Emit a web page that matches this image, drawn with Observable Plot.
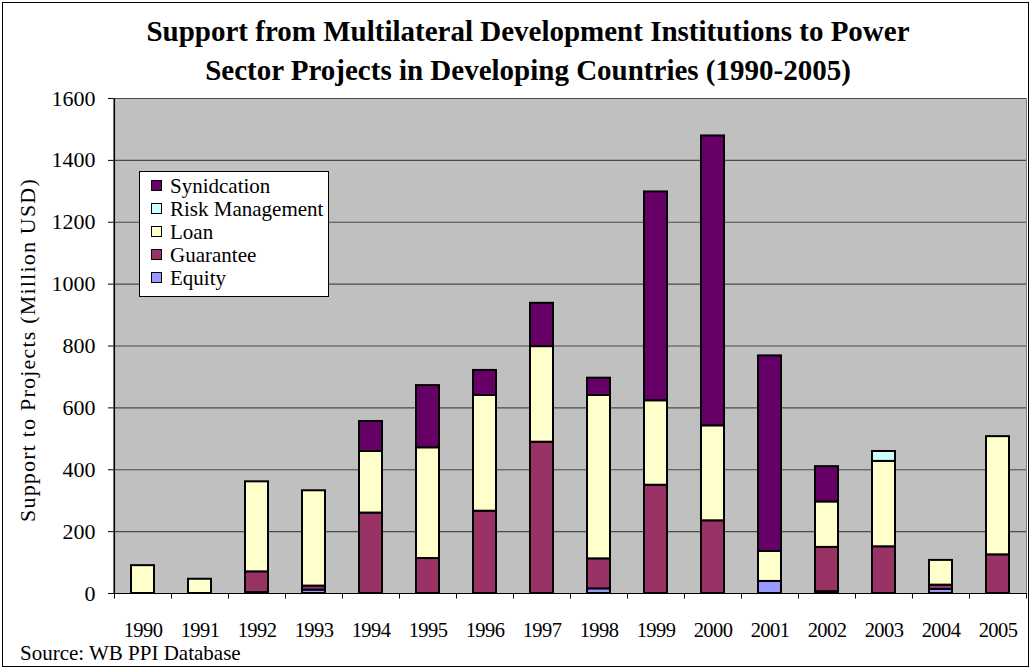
<!DOCTYPE html>
<html><head><meta charset="utf-8">
<script src="https://cdn.jsdelivr.net/npm/d3@7"></script>
<script src="https://cdn.jsdelivr.net/npm/@observablehq/plot@0.6"></script>
<style>
body{margin:0;background:#fff;}
#wrap{position:relative;width:1032px;height:670px;font-family:"Liberation Serif","Times New Roman",serif;color:#000;overflow:hidden}
#wrap svg{position:absolute;left:0;top:0}
#wrap svg g[aria-label="x-axis tick label"] text{letter-spacing:-0.6px}
#frame{position:absolute;left:2px;top:2px;width:1027px;height:665px;border:1px solid #000;box-sizing:border-box;pointer-events:none}
#title{position:absolute;left:12px;top:12px;width:1032px;text-align:center;font-weight:bold;font-size:29px;line-height:39px;}
#ylab{position:absolute;left:28px;top:350px;transform:translate(-50%,-50%) rotate(-90deg);white-space:nowrap;font-size:22px;letter-spacing:1.2px;line-height:22px}
#source{position:absolute;left:20px;top:643px;font-size:21px;line-height:21px;}
#legend{position:absolute;left:139px;top:171px;width:190px;height:126px;background:#fff;border:1px solid #000;box-sizing:border-box;}
.li{position:absolute;left:11px;height:20px;font-size:21px;line-height:20px;white-space:nowrap}
.sw{display:inline-block;width:9px;height:9px;border:1px solid #000;margin-right:8px;vertical-align:2px}
</style></head>
<body><div id="wrap"></div>
<script>
const years = ["1990","1991","1992","1993","1994","1995","1996","1997","1998","1999","2000","2001","2002","2003","2004","2005"];
const types = ["Equity","Guarantee","Loan","Risk Management","Synidcation"];
const colors = ["#9999ff","#993366","#ffffcc","#ccffff","#660066"];
const equity      = [0,0,3,11,0,0,0,0,15,0,0,39,6,0,13,0];
const guarantee   = [0,0,67,13,260,113,266,489,97,350,235,0,143,151,14,125];
const loan        = [90,46,291,308,199,358,374,309,528,273,307,97,147,276,80,382];
const riskMgmt    = [0,0,0,0,0,0,0,0,0,0,0,0,0,32,0,0];
const syndication = [0,0,0,0,97,201,81,140,56,675,937,632,114,0,0,0];
const yTicks = [0,200,400,600,800,1000,1200,1400,1600];
const title1 = "Support from Multilateral Development Institutions to Power";
const title2 = "Sector Projects in Developing Countries (1990-2005)";
const yLabel = "Support to Projects (Million USD)";
const source = "Source: WB PPI Database";

const series = [equity, guarantee, loan, riskMgmt, syndication];
const rows = [];
years.forEach((y, i) => types.forEach((t, k) => {
  if (series[k][i] > 0) rows.push({year: y, type: t, value: series[k][i]});
}));

const W = 1032, H = 670, mL = 113, mR = 6, mT = 98, mB = 77;
const step = (W - mL - mR) / years.length;

const chart = Plot.plot({
  width: W, height: H,
  marginLeft: mL, marginRight: mR, marginTop: mT, marginBottom: mB,
  style: {background: "transparent", fontFamily: "'Liberation Serif','Times New Roman',serif", fontSize: "19px", color: "#000"},
  x: {type: "band", domain: years, paddingInner: 0.6, paddingOuter: 0.3, align: 0.5, label: null},
  y: {domain: [0, 1600], label: null},
  color: {domain: types, range: colors},
  marks: [
    Plot.frame({fill: "#c0c0c0", stroke: "#808080"}),
    Plot.ruleY(yTicks.slice(1), {stroke: "#4a4a4a", strokeWidth: 1.2}),
    Plot.barY(rows, {x: "year", y: "value", fill: "type", order: types, stroke: "#000", strokeWidth: 2}),
    Plot.ruleY([0], {stroke: "#000", strokeWidth: 1.2}),
    Plot.ruleX([years[0]], {dx: -step / 2, stroke: "#000", strokeWidth: 1.2}),
    Plot.ruleX(years, {x: d => d, dx: -step / 2, y1: 0, y2: -18, stroke: "#000"}),
    Plot.ruleX([years[years.length - 1]], {dx: step / 2, y1: 0, y2: -18, stroke: "#000"}),
    Plot.axisY({ticks: yTicks, tickSize: 5, tickPadding: 13, label: null, tickFormat: d => String(d), fontSize: 22}),
    Plot.axisX({tickSize: 0, tickPadding: 29, label: null, fontSize: 20.5})
  ]
});

const wrap = document.getElementById("wrap");
wrap.appendChild(chart);

const t = document.createElement("div"); t.id = "title";
t.innerHTML = title1 + "<br>" + title2; wrap.appendChild(t);
const yl = document.createElement("div"); yl.id = "ylab"; yl.textContent = yLabel; wrap.appendChild(yl);
const src = document.createElement("div"); src.id = "source"; src.textContent = source; wrap.appendChild(src);

const lg = document.createElement("div"); lg.id = "legend";
const legendOrder = types.slice().reverse();
legendOrder.forEach((name, i) => {
  const it = document.createElement("div"); it.className = "li";
  it.style.top = (4 + i * 23) + "px";
  const sw = document.createElement("span"); sw.className = "sw";
  sw.style.background = colors[types.indexOf(name)];
  it.appendChild(sw);
  it.appendChild(document.createTextNode(name));
  lg.appendChild(it);
});
wrap.appendChild(lg);
const fr = document.createElement("div"); fr.id = "frame"; wrap.appendChild(fr);
</script>
</body></html>
